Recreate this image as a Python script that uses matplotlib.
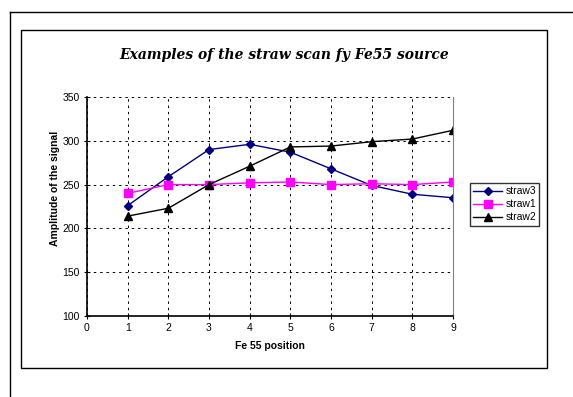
import matplotlib
matplotlib.use("Agg")
import matplotlib.pyplot as plt
from matplotlib.lines import Line2D
from matplotlib.patches import Rectangle

# data
positions = [1, 2, 3, 4, 5, 6, 7, 8, 9]
straw3 = [226, 259, 290, 296, 287, 268, 249, 239, 235]
straw1 = [240, 250, 250, 252, 253, 250, 251, 250, 253]
straw2 = [214, 223, 250, 271, 293, 294, 299, 302, 312]

plt.rcParams['font.family'] = ['Liberation Sans', 'DejaVu Sans']

W, H = 573, 397
fig = plt.figure(figsize=(W / 100, H / 100), dpi=100)

def fx(px):
    return px / W

def fy(py):
    return 1 - py / H

# frames around the chart
fig.add_artist(Line2D([fx(10), 1.0], [fy(12), fy(12)], color='black', lw=1.0))
fig.add_artist(Line2D([fx(10), fx(10)], [fy(12), 0.0], color='black', lw=1.0))
fig.add_artist(Rectangle((fx(21), fy(368)), fx(547) - fx(21), fy(30) - fy(368),
                         fill=False, edgecolor='black', lw=1.0))

ax = fig.add_axes([fx(87), fy(316), fx(453) - fx(87), fy(97) - fy(316)])

ax.plot(positions, straw3, color='#000080', marker='D', markersize=4.5, lw=1.0, label='straw3')
ax.plot(positions, straw1, color='#FF00FF', marker='s', markersize=6, lw=1.0, label='straw1')
ax.plot(positions, straw2, color='black', marker='^', markersize=6, lw=1.0, label='straw2')

ax.set_xlim(0, 9)
ax.set_ylim(100, 350)
ax.set_xticks(range(0, 10))
ax.set_yticks(range(100, 351, 50))
ax.tick_params(direction='inout', length=4, width=0.8, labelsize=7.5, pad=3)
ax.grid(True, color='black', linestyle=(0, (2.5, 4)), lw=0.7)

ax.spines['top'].set_visible(False)
ax.spines['right'].set_color('#808080')
ax.spines['left'].set_linewidth(1.2)
ax.spines['bottom'].set_linewidth(1.2)

leg = ax.legend(loc='upper left', bbox_to_anchor=(1.046, 0.607),
                fontsize=7.5, frameon=True, fancybox=False, borderpad=0.3,
                handlelength=2.8, labelspacing=0.3, handletextpad=0.3, borderaxespad=0)
leg.get_frame().set_edgecolor('black')
leg.get_frame().set_linewidth(1.0)

fig.text(fx(284), fy(55), 'Examples of the straw scan fy Fe55 source',
         family='DejaVu Serif', fontweight='bold', fontstyle='italic',
         fontsize=10, ha='center', va='center')
fig.text(fx(270), fy(346), 'Fe 55 position', fontsize=7.5, fontweight='bold',
         ha='center', va='center')
fig.text(fx(55), fy(188), 'Amplitude of the signal', fontsize=7.5, fontweight='bold',
         rotation=90, ha='center', va='center')

fig.savefig('out.png', dpi=100)
